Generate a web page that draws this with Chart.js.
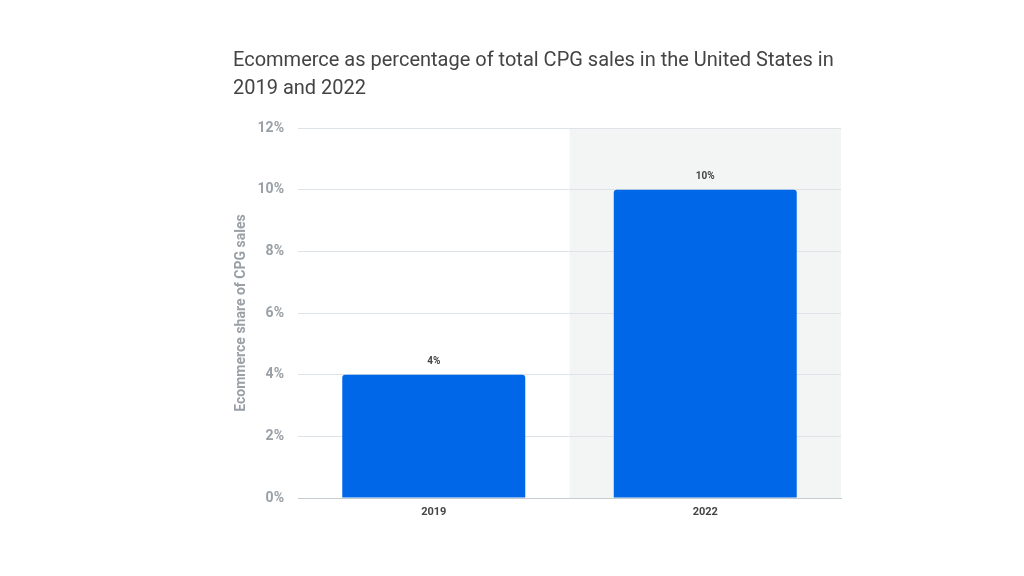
<!DOCTYPE html>
<html>
<head>
<meta charset="utf-8">
<script src="https://cdn.jsdelivr.net/npm/chart.js@4"></script>
<style>
  html, body { margin: 0; padding: 0; background: #fff; }
  #wrap { width: 1024px; height: 576px; }
</style>
</head>
<body>
<div id="wrap"><canvas id="cpg-chart"></canvas></div>
<script>
var years = ['2019', '2022'];
var shares = [4, 10];
var yTicks = [0, 2, 4, 6, 8, 10, 12];

// grey band behind the latest year
var bandPlugin = {
    id: 'band',
    beforeDraw: function (chart) {
        var ctx = chart.ctx, area = chart.chartArea, x = chart.scales.x;
        var left = (x.getPixelForValue(0) + x.getPixelForValue(1)) / 2;
        ctx.save();
        ctx.fillStyle = '#f3f5f5';
        ctx.fillRect(left, area.top, area.right - left, area.bottom - area.top);
        ctx.restore();
    }
};

// value labels above the bars
var valueLabels = {
    id: 'valueLabels',
    afterDatasetsDraw: function (chart) {
        var ctx = chart.ctx;
        ctx.save();
        ctx.font = 'bold 10px Roboto';
        ctx.fillStyle = '#444';
        ctx.textAlign = 'center';
        ctx.textBaseline = 'bottom';
        chart.getDatasetMeta(0).data.forEach(function (bar, i) {
            ctx.fillText(shares[i] + '%', bar.x, bar.y - 8);
        });
        ctx.restore();
    }
};

var cpgChartNode = document.getElementById('cpg-chart').getContext('2d');
var cpgChart = new Chart(cpgChartNode, {
    type: 'bar',
    data: {
        labels: years,
        datasets: [{
            data: shares,
            backgroundColor: '#0068e8',
            borderRadius: 3,
            borderSkipped: 'bottom',
            barPercentage: 0.674,
            categoryPercentage: 1
        }]
    },
    options: {
        responsive: true,
        maintainAspectRatio: false,
        animation: false,
        layout: {
            padding: { left: 233, right: 183, top: 47, bottom: 48 }
        },
        plugins: {
            legend: { display: false },
            tooltip: { enabled: false },
            title: {
                display: true,
                align: 'start',
                text: ['Ecommerce as percentage of total CPG sales in the United States in', '2019 and 2022'],
                color: '#444',
                font: { family: 'Roboto', size: 20, weight: 'normal', lineHeight: 1.4 },
                padding: { top: 0, bottom: 25 }
            }
        },
        scales: {
            x: {
                grid: { display: false, drawTicks: false },
                border: { display: true, color: '#c5cdd1', width: 1 },
                ticks: {
                    color: '#444',
                    font: { family: 'Roboto', size: 11, weight: 'bold' },
                    padding: 8
                },
                afterFit: function (scale) { scale.height = 30; }
            },
            y: {
                min: 0,
                max: 12,
                afterBuildTicks: function (scale) {
                    scale.ticks = yTicks.map(function (v) { return { value: v }; });
                },
                grid: { color: '#dde3e6', lineWidth: 1, drawTicks: false },
                border: { display: false },
                ticks: {
                    color: '#9aa0a6',
                    font: { family: 'Roboto', size: 14, weight: 'bold' },
                    padding: 14,
                    callback: function (v) { return v + '%'; }
                },
                title: {
                    display: true,
                    text: 'Ecommerce share of CPG sales',
                    color: '#9aa0a6',
                    font: { family: 'Roboto', size: 14, weight: 'bold' },
                    padding: { top: 0, bottom: 0 }
                },
                afterFit: function (scale) { scale.width = 65; }
            }
        }
    },
    plugins: [bandPlugin, valueLabels]
});
</script>
</body>
</html>
